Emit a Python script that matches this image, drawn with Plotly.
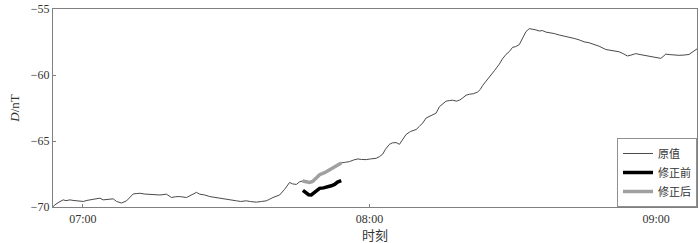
import plotly.graph_objects as go

# time in minutes relative to 07:00, values in nT
orig_t = [-6.27, -5.85, -5.02, -4.12, -3.55, -2.72, -2.09, -1.32, -0.63, 0.06, 0.84, 1.46, 2.51, 3.55,
          4.24, 5.23, 6.33, 7.05, 8.09, 9.14, 9.83, 10.52, 11.29, 11.92, 12.96, 14.01, 15.05, 16.10,
          17.50, 18.54, 19.44, 20.28, 21.68, 23.06, 23.77, 24.46, 25.51, 26.55, 27.60, 28.64, 29.69,
          30.73, 32.13, 33.03, 34.22, 35.12, 36.31, 37.42, 38.40, 39.09, 39.78, 41.18, 42.23, 43.27,
          43.90, 44.68, 45.37, 45.99, 46.62, 47.46, 48.09, 48.71, 49.55, 50.60, 52.00, 52.89, 54.08,
          54.98, 55.82, 56.66, 57.56, 58.33, 59.31, 60.21, 61.40, 62.09, 62.78, 63.35, 64.18, 64.81,
          65.58, 66.27, 66.90, 67.67, 68.57, 69.76, 70.45, 71.14, 71.85, 72.54, 73.23, 73.94, 74.64,
          75.26, 76.04, 76.72, 77.42, 78.19, 78.82, 79.44, 80.22, 80.91, 81.75, 82.64, 83.21, 83.69,
          84.47, 85.09, 86.14, 87.18, 87.81, 88.58, 89.27, 89.96, 90.53, 91.36, 91.99, 92.76, 93.45,
          94.08, 94.85, 95.54, 96.17, 96.94, 97.63, 98.68, 99.72, 100.77, 101.81, 102.86, 103.90,
          104.95, 105.99, 107.39, 108.08, 109.48, 110.86, 112.26, 113.10, 114.00, 114.77, 115.75,
          116.65, 117.85, 118.54, 119.59, 120.99, 121.47, 122.04, 122.73, 123.77, 124.82, 125.86,
          126.91, 127.74, 128.57]
orig_v = [-69.98, -69.83, -69.63, -69.46, -69.52, -69.46, -69.50, -69.53, -69.55, -69.58, -69.50, -69.46,
          -69.41, -69.33, -69.46, -69.41, -69.38, -69.58, -69.70, -69.53, -69.26, -69.01, -68.98, -68.96,
          -69.02, -69.03, -69.07, -69.09, -69.03, -69.28, -69.22, -69.21, -69.28, -69.03, -68.89, -69.03,
          -69.09, -69.21, -69.26, -69.33, -69.41, -69.46, -69.53, -69.58, -69.53, -69.59, -69.63, -69.58,
          -69.53, -69.41, -69.28, -69.09, -68.66, -68.14, -68.25, -68.29, -68.09, -68.03, -68.07, -68.14,
          -68.07, -67.85, -67.55, -67.40, -67.10, -66.88, -66.66, -66.61, -66.56, -66.44, -66.36, -66.40,
          -66.41, -66.36, -66.31, -66.18, -65.99, -65.62, -65.25, -65.14, -65.12, -65.25, -64.88, -64.50,
          -64.28, -64.13, -63.89, -63.64, -63.26, -63.15, -63.02, -62.89, -62.40, -62.20, -61.98, -61.94,
          -61.91, -61.98, -61.91, -61.76, -61.53, -61.46, -61.42, -61.29, -61.09, -60.79, -60.46, -60.18,
          -59.68, -59.18, -58.79, -58.44, -58.23, -57.90, -57.86, -57.70, -57.23, -56.71, -56.49, -56.52,
          -56.58, -56.67, -56.63, -56.75, -56.78, -56.86, -56.97, -57.04, -57.12, -57.23, -57.34, -57.49,
          -57.56, -57.70, -57.82, -58.07, -58.14, -58.24, -58.38, -58.56, -58.49, -58.38, -58.45, -58.53,
          -58.56, -58.64, -58.74, -58.60, -58.42, -58.45, -58.49, -58.51, -58.49, -58.44, -58.23, -58.02]

before_t = [46.06, 46.62, 47.25, 47.81, 48.50, 49.13, 49.55, 50.38, 51.22, 52.00, 52.69, 53.31, 54.08]
before_v = [-68.74, -68.92, -69.07, -69.09, -68.89, -68.74, -68.59, -68.55, -68.48, -68.39, -68.29, -68.11, -68.00]

after_t = [45.99, 46.62, 47.46, 48.09, 48.71, 49.55, 50.60, 52.00, 52.89, 54.08]
after_v = [-68.03, -68.07, -68.14, -68.07, -67.85, -67.55, -67.40, -67.10, -66.88, -66.66]

x_tickvals = [0, 60, 120]
x_ticktext = ["07:00", "08:00", "09:00"]
y_tickvals = [-70, -65, -60, -55]

names = ["原值", "修正前", "修正后"]

font_family = "Liberation Serif, Noto Sans CJK SC"

fig = go.Figure()
fig.add_trace(go.Scatter(x=orig_t, y=orig_v, mode="lines", name=names[0],
                         line=dict(color="#4a4a4a", width=1)))
fig.add_trace(go.Scatter(x=before_t, y=before_v, mode="lines", name=names[1],
                         line=dict(color="#000000", width=3.5)))
fig.add_trace(go.Scatter(x=after_t, y=after_v, mode="lines", name=names[2],
                         line=dict(color="#a0a0a0", width=3.5)))

axis_common = dict(showline=True, linecolor="#808080", linewidth=1.2, mirror=True,
                   ticks="inside", ticklen=3, tickcolor="#808080", showgrid=False,
                   zeroline=False, tickfont=dict(family=font_family, size=12, color="#333333"))

fig.update_layout(
    width=700, height=243,
    margin=dict(l=53, r=2, t=7, b=34),
    paper_bgcolor="white", plot_bgcolor="white",
    font=dict(family=font_family, size=12, color="#333333"),
    showlegend=True,
    legend=dict(x=1, y=0, xanchor="right", yanchor="bottom", bordercolor="#909090",
                borderwidth=1, bgcolor="white", font=dict(size=11),
                tracegroupgap=0),
    xaxis=dict(range=[-6.27, 128.57], tickvals=x_tickvals, ticktext=x_ticktext,
               title=dict(text="时刻", standoff=6, font=dict(size=13)), **axis_common),
    yaxis=dict(range=[-70, -55], tickvals=y_tickvals,
               title=dict(text="<i>D</i>/nT", standoff=8, font=dict(size=13)), **axis_common),
)

fig.write_html("out.html")
